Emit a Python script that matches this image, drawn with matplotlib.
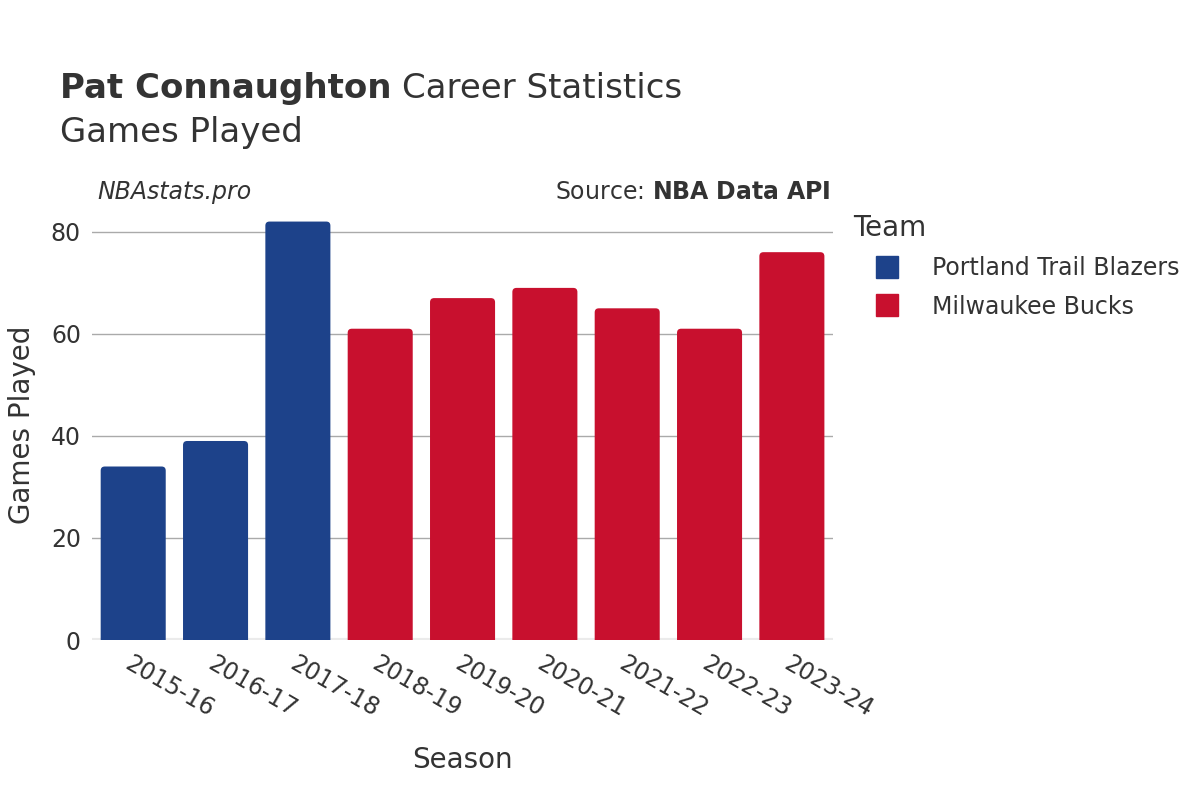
import matplotlib
matplotlib.use("Agg")
import matplotlib.pyplot as plt
from matplotlib.patches import FancyBboxPatch
from matplotlib.lines import Line2D

# Data
seasons = ["2015-16", "2016-17", "2017-18", "2018-19", "2019-20",
           "2020-21", "2021-22", "2022-23", "2023-24"]
games = [34, 39, 82, 61, 67, 69, 65, 61, 76]
teams = ["Portland Trail Blazers", "Portland Trail Blazers", "Portland Trail Blazers",
         "Milwaukee Bucks", "Milwaukee Bucks", "Milwaukee Bucks",
         "Milwaukee Bucks", "Milwaukee Bucks", "Milwaukee Bucks"]
team_names = ["Portland Trail Blazers", "Milwaukee Bucks"]
team_colors = {"Portland Trail Blazers": "#1D428A", "Milwaukee Bucks": "#C8102E"}

plt.rcParams['font.family'] = ['DejaVu Sans']
text_col = "#333333"

fig = plt.figure(figsize=(12, 8), dpi=100)
ax = fig.add_axes([0.0767, 0.2, 0.6175, 0.539])
ax.set_xlim(-0.5, 8.5)
ax.set_ylim(0, 84.5)

x = list(range(len(seasons)))
bars = ax.bar(x, games, width=0.79, color=[team_colors[t] for t in teams], zorder=2)

# swap bars for ones with slightly rounded corners
ax_w = 0.6175 * 1200
ax_h = 0.539 * 800
aspect = (84.5 / ax_h) / (9.0 / ax_w)
for b in bars:
    bx, bw, bh = b.get_x(), b.get_width(), b.get_height()
    rb = FancyBboxPatch((bx, -2), bw, bh + 2,
                        boxstyle="round,pad=0,rounding_size=0.05",
                        mutation_aspect=aspect, facecolor=b.get_facecolor(),
                        edgecolor="none", zorder=2)
    ax.add_patch(rb)
    b.remove()

ax.set_yticks([0, 20, 40, 60, 80])
ax.yaxis.grid(True, color="#aaaaaa", linewidth=1, zorder=0)
ax.set_axisbelow(True)
for s in ax.spines.values():
    s.set_visible(False)
ax.axhline(0, color="#ebebeb", linewidth=3, zorder=1)
ax.tick_params(axis="both", length=0, labelsize=17, colors=text_col, pad=8)
ax.set_xticks(x)
ax.set_xticklabels(seasons, rotation=-30, ha="left", va="top", rotation_mode="anchor")
for lab in ax.get_xticklabels():
    lab.set_x(lab.get_position()[0] - 0.1)

ax.set_xlabel("Season", fontsize=20, color=text_col, labelpad=18)
ax.set_ylabel("Games Played", fontsize=20, color=text_col, labelpad=11)

# Titles
t1 = fig.text(0.05, 0.889, "Pat Connaughton", fontsize=24.5, fontweight="bold",
              color=text_col, va="center")
fig.canvas.draw()
bb = t1.get_window_extent().transformed(fig.transFigure.inverted())
fig.text(bb.x1 + 0.009, 0.889, "Career Statistics", fontsize=24.5, color=text_col, va="center")
fig.text(0.05, 0.834, "Games Played", fontsize=24.5, color=text_col, va="center")
fig.text(0.081, 0.76, "NBAstats.pro", fontsize=17, style="italic", color=text_col, va="center")
fig.text(0.692, 0.76, "Source: $\\bf{NBA\\ Data\\ API}$", fontsize=17, color=text_col,
         va="center", ha="right")

# Legend
handles = [Line2D([0], [0], marker="s", linestyle="", markersize=16,
                  markerfacecolor=team_colors[t], markeredgecolor=team_colors[t])
           for t in team_names]
leg = fig.legend(handles, team_names, title="Team", loc="upper left",
                 bbox_to_anchor=(0.703, 0.744), frameon=False, fontsize=17,
                 title_fontsize=20, handlelength=2.9, handletextpad=0.45,
                 labelspacing=0.6, borderaxespad=0)
leg._legend_box.align = "left"
for t in leg.get_texts():
    t.set_color(text_col)
leg.get_title().set_color(text_col)

fig.savefig("out.png", dpi=100, facecolor="white")
